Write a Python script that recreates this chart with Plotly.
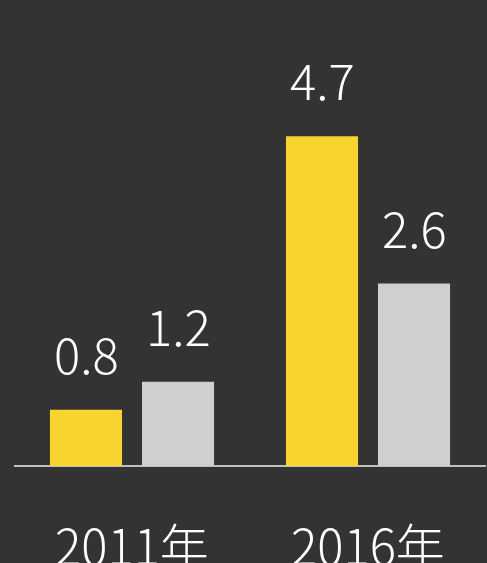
import plotly.graph_objects as go

categories = ["2011年", "2016年"]
series_a = [0.8, 4.7]   # yellow
series_b = [1.2, 2.6]   # gray
labels_a = ["0.8", "4.7"]
labels_b = ["1.2", "2.6"]

YELLOW = "#F9D42E"
GRAY = "#D0CECE"
BG = "#333333"
FONT = "Noto Sans CJK SC, Noto Sans, sans-serif"

x_idx = list(range(len(categories)))

fig = go.Figure()
fig.add_trace(go.Bar(x=x_idx, y=series_a, marker=dict(color=YELLOW, line=dict(width=0)),
                     hoverinfo="skip"))
fig.add_trace(go.Bar(x=x_idx, y=series_b, marker=dict(color=GRAY, line=dict(width=0)),
                     hoverinfo="skip"))

annotations = []
for i in x_idx:
    for vals, labs, shift in ((series_a, labels_a, -46), (series_b, labels_b, 46)):
        annotations.append(dict(x=i, y=vals[i], xref="x", yref="y", text=labs[i],
                                showarrow=False, xshift=shift, yanchor="bottom", yshift=20,
                                font=dict(family=FONT, size=49, color="white", weight=300)))
    annotations.append(dict(x=i, y=0, xref="x", yref="y", text=categories[i],
                            showarrow=False, yanchor="top", yshift=-40,
                            font=dict(family=FONT, size=49, color="white", weight=300)))

fig.update_layout(
    width=487, height=563,
    margin=dict(l=14, r=1, t=45, b=97),
    paper_bgcolor=BG, plot_bgcolor=BG,
    barmode="group", bargap=0.22, bargroupgap=0.217,
    showlegend=False,
    annotations=annotations,
    xaxis=dict(range=[-0.5, 1.5], showticklabels=False, showgrid=False, zeroline=False,
               showline=False, fixedrange=True),
    yaxis=dict(range=[0, 6], showticklabels=False, showgrid=False, zeroline=True,
               zerolinecolor="#BFBFBF", zerolinewidth=2, showline=False, fixedrange=True),
)

fig.write_html("out.html", config={"displayModeBar": False})
